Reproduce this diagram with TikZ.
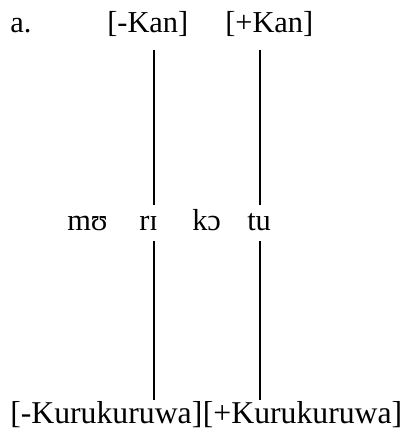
\documentclass[tikz,border=0pt]{standalone}
\usepackage{fontspec}
\setmainfont{Liberation Serif}
\usetikzlibrary{positioning}

\begin{document}
\begin{tikzpicture}[x=0.75pt, y=-0.75pt,
  gloss/.style={inner sep=0pt, anchor=base west, font=\fontsize{22.8}{27}\selectfont},
  wide/.style={gloss, font=\fontsize{23.8}{28}\selectfont},
  assoc/.style={line width=1.1pt}
]
\useasboundingbox (0,0) rectangle (406,442);
% labels on top
\node[gloss] (ex) at (10,33) {a.};
\node[gloss] (kanm) at (107,33) {[-Kan]};
\node[gloss] (kanp) at (225,33) {[+Kan]};
% syllables
\node[gloss] (mu) at (67,230) {mʊ};
\node[gloss] (ri) at (139,230) {rɪ};
\node[gloss] (ko) at (192,230) {kɔ};
\node[gloss] (tu) at (247,230) {tu};
% labels below
\node[wide] (kurm) at (10,423) {[-Kurukuruwa]};
\node[wide, right=0pt of kurm.base east, anchor=base west] (kurp) {[+Kurukuruwa]};
% association lines
\coordinate (a1) at (154,50);
\coordinate (b1) at (154,205);
\coordinate (c1) at (154,241);
\coordinate (d1) at (154,400);
\coordinate (a2) at (260,50);
\coordinate (b2) at (260,205);
\coordinate (c2) at (260,241);
\coordinate (d2) at (260,400);
\draw[assoc] (a1) -- (b1);
\draw[assoc] (c1) -- (d1);
\draw[assoc] (a2) -- (b2);
\draw[assoc] (c2) -- (d2);
\end{tikzpicture}
\end{document}
